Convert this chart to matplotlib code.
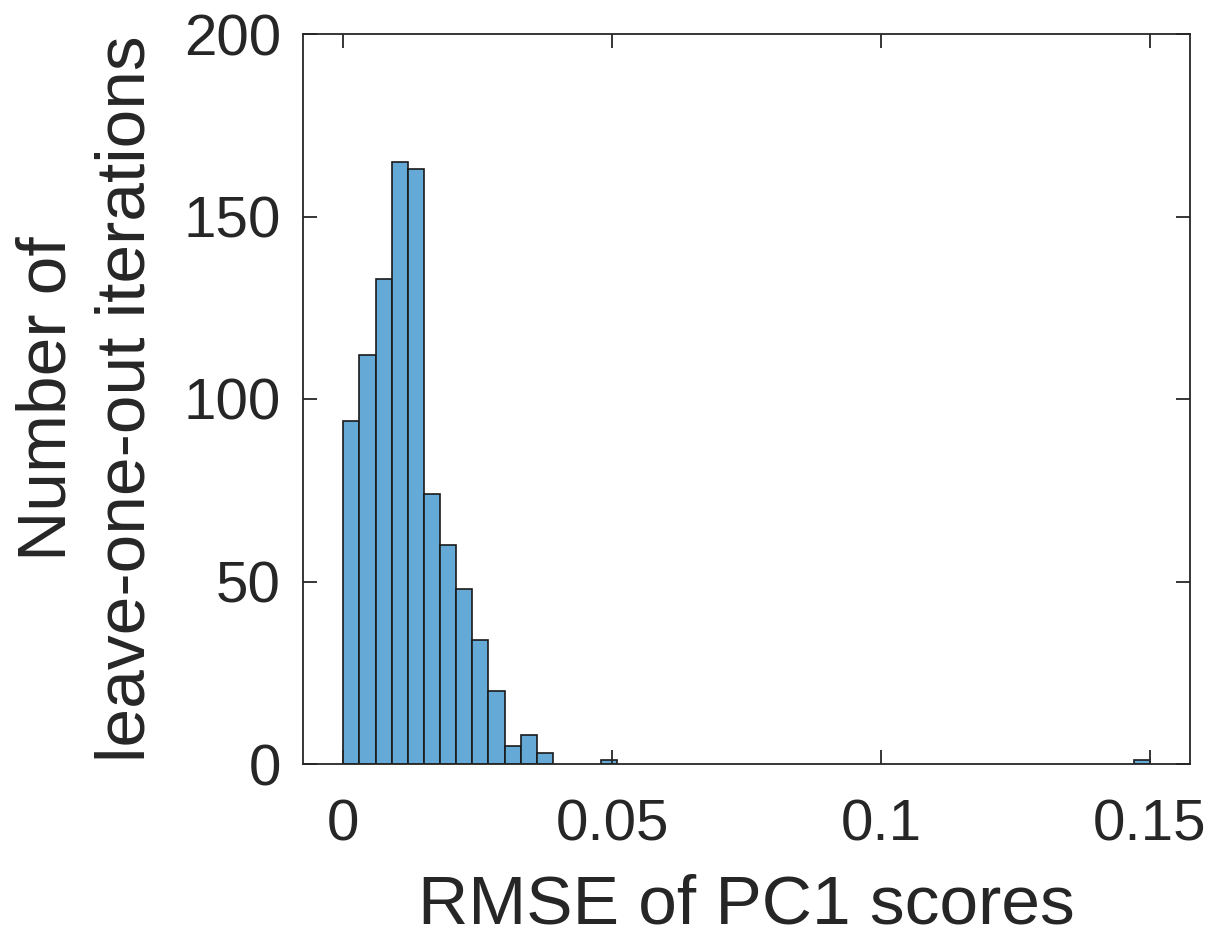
import numpy as np
import matplotlib.pyplot as plt

# histogram bins (left edges) and counts, bin width 0.003
bin_left = [0.000, 0.003, 0.006, 0.009, 0.012, 0.015, 0.018, 0.021, 0.024,
            0.027, 0.030, 0.033, 0.036, 0.048, 0.147]
counts = [94, 112, 133, 165, 163, 74, 60, 48, 34, 20, 5, 8, 3, 1, 1]
bin_width = 0.003

xticks = [0, 0.05, 0.1, 0.15]
xtick_labels = ["0", "0.05", "0.1", "0.15"]
yticks = [0, 50, 100, 150, 200]

plt.rcParams['font.family'] = ['Liberation Sans', 'DejaVu Sans']
text_color = "#262626"

fig = plt.figure(figsize=(12.22, 9.42), dpi=100)
ax = fig.add_axes([303 / 1222, 1 - 764 / 942, (1190 - 303) / 1222, (764 - 34) / 942])

ax.bar(bin_left, counts, width=bin_width, align='edge',
       color="#65a9d7", edgecolor="#1a1a1a", linewidth=1.2)

ax.set_xlim(-0.0075, 0.1575)
ax.set_ylim(0, 200)
ax.set_xticks(xticks)
ax.set_xticklabels(xtick_labels)
ax.set_yticks(yticks)

ax.tick_params(direction='in', length=10, width=1.3, colors=text_color,
               labelsize=42, top=True, right=True)
ax.tick_params(axis='x', pad=25)
ax.tick_params(axis='y', pad=16)
for sp in ax.spines.values():
    sp.set_color(text_color)
    sp.set_linewidth(1.3)

ax.set_xlabel("RMSE of PC1 scores", fontsize=50, color=text_color, labelpad=15)
ax.set_ylabel("Number of\nleave-one-out iterations", fontsize=50,
              color=text_color, labelpad=18, linespacing=1.3)

fig.savefig("out.png", dpi=100)
